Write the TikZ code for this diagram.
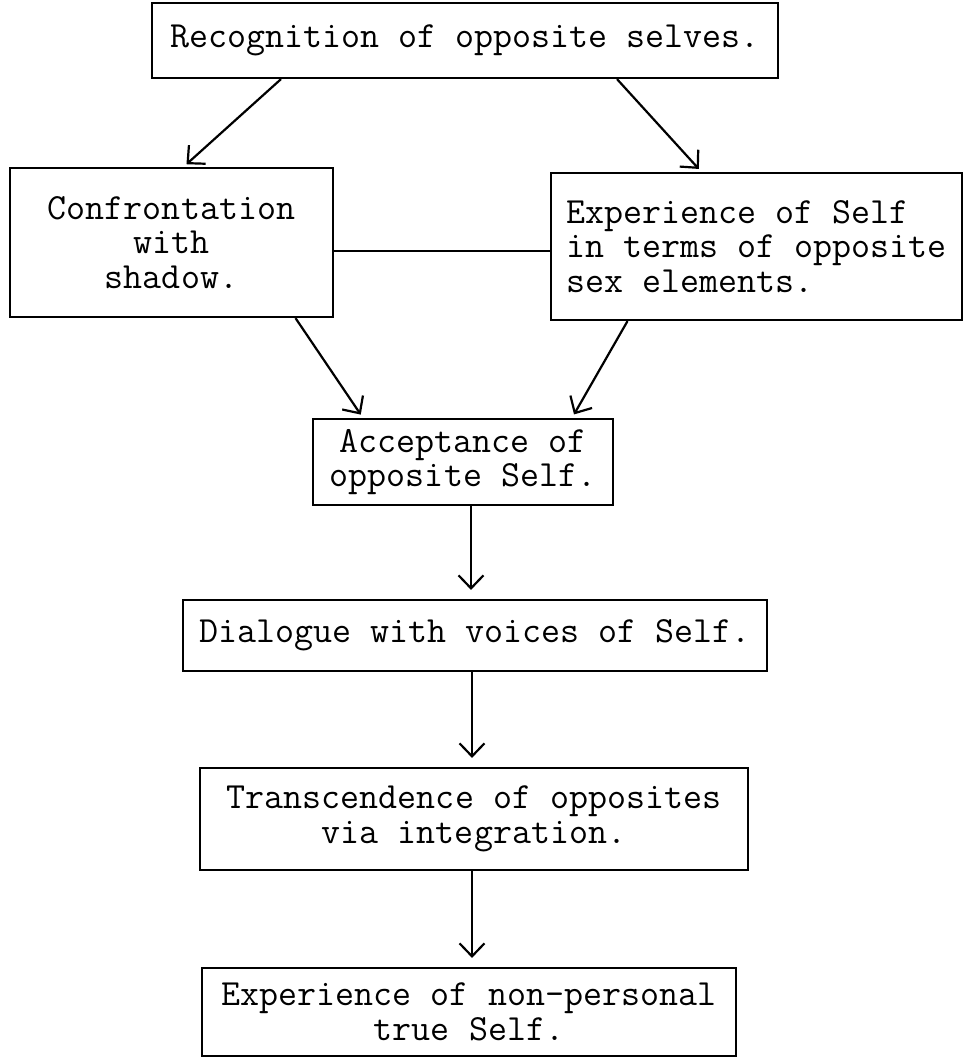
\documentclass[tikz,border=0pt]{standalone}
\usetikzlibrary{arrows.meta}
\begin{document}
\begin{tikzpicture}[x=1pt, y=-1pt, line width=2.2pt, >={Straight Barb[length=13pt,width=25pt]}]
	\tikzstyle{stage} = [rectangle, draw=black, inner sep=0pt, font=\ttfamily\fontsize{36.9}{34.5}\selectfont, align=center]

	\fill[white] (0,0) rectangle (964,1057);
	\useasboundingbox (0,0) rectangle (964,1057);

	\node[stage, minimum width=626pt, minimum height=75pt] (recog) at (465, 40.5) {Recognition of opposite selves.};
	\node[stage, minimum width=323pt, minimum height=149pt] (shadow) at (171.5, 242.5) {Confrontation\\with\\shadow.};
	\node[stage, minimum width=411pt, minimum height=147pt, align=left] (sexself) at (756.5, 246.5) {Experience of Self\\in terms of opposite\\sex elements.};
	\node[stage, minimum width=300pt, minimum height=86pt] (accept) at (463, 462) {Acceptance of\\opposite Self.};
	\node[stage, minimum width=584pt, minimum height=71pt] (dialogue) at (475, 635.5) {Dialogue with voices of Self.};
	\node[stage, minimum width=548pt, minimum height=102pt] (transc) at (474, 819) {Transcendence of opposites\\via integration.};
	\node[stage, minimum width=534pt, minimum height=88pt] (trueself) at (469, 1012) {Experience of non-personal\\true Self.};

	\foreach \from/\fx/\to/\tx in {recog/-184/shadow/12, recog/152/sexself/-55, shadow/124/accept/-100, sexself/-129/accept/109}
		\draw[->, shorten >=4pt] ([xshift=\fx pt]\from.south) -- ([xshift=\tx pt]\to.north);

	\foreach \from/\fx/\to in {accept/8/dialogue, dialogue/-3/transc, transc/-2/trueself}
		\draw[->, shorten >=9pt] ([xshift=\fx pt]\from.south) -- ([xshift=\fx pt]\from.south |- \to.north);

	\draw ([yshift=-8.5pt]shadow.east) -- ([yshift=-8.5pt]shadow.east -| sexself.west);

\end{tikzpicture}
\end{document}
